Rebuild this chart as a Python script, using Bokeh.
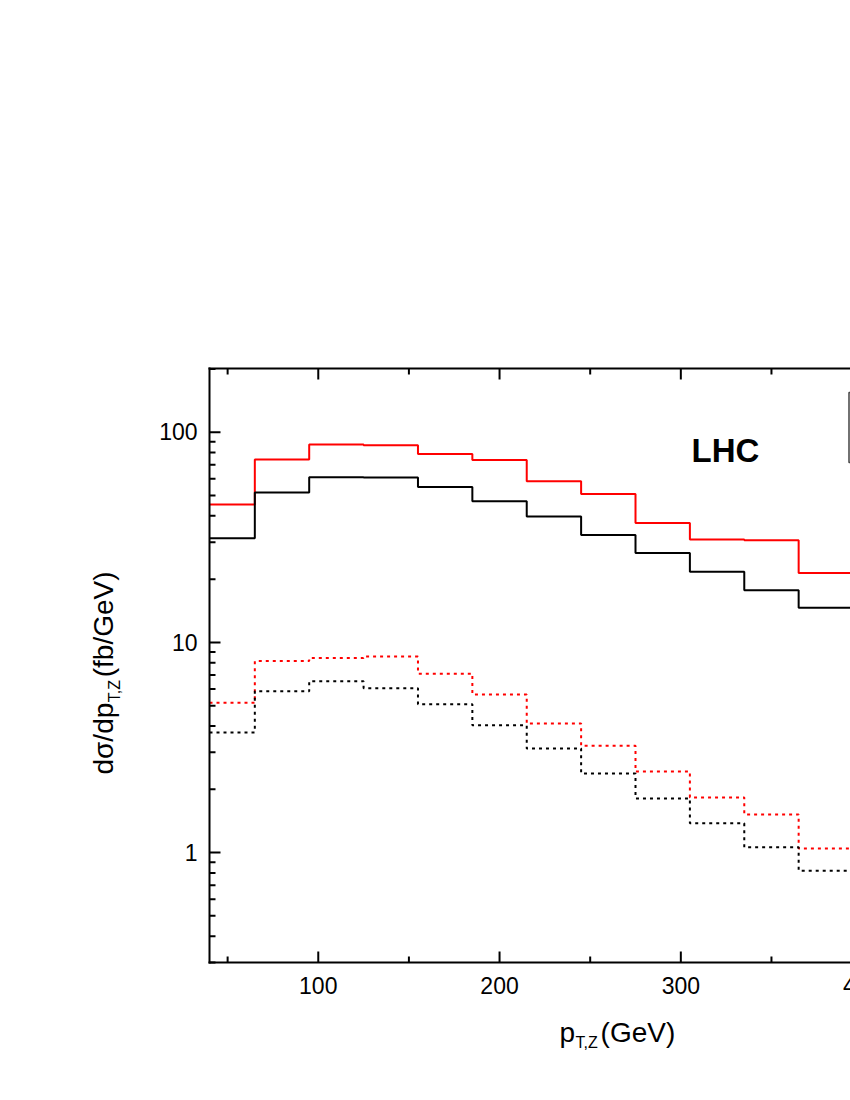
import math
from bokeh.plotting import figure
from bokeh.models import Label, Range1d
from bokeh.core.properties import value
from bokeh.embed import file_html
from bokeh.resources import INLINE

# ---------------- data ----------------
bin_edges = [40, 65, 95, 125, 155, 185, 215, 245, 275, 305, 335, 365, 395]
red_solid = [45.3, 74.1, 87.4, 86.7, 78.8, 73.8, 58.4, 50.8, 37.0, 30.9, 30.6, 21.4]
black_solid = [31.3, 51.6, 61.1, 60.9, 54.9, 46.9, 39.7, 32.4, 26.6, 21.7, 17.7, 14.6]
red_dotted = [5.16, 8.15, 8.42, 8.58, 7.10, 5.65, 4.11, 3.22, 2.43, 1.83, 1.52, 1.045]
black_dotted = [3.73, 5.86, 6.54, 6.06, 5.08, 4.03, 3.13, 2.38, 1.81, 1.38, 1.06, 0.82]

x_major = [100, 200, 300, 400]
x_major_labels = ["100", "200", "300", "400"]
x_minor = [50, 150, 250, 350]
y_major = [1, 10, 100]
y_major_labels = ["1", "10", "100"]
y_minor = [0.3, 0.4, 0.5, 0.6, 0.7, 0.8, 0.9,
           2, 3, 4, 5, 6, 7, 8, 9,
           20, 30, 40, 50, 60, 70, 80, 90, 200]

# ---------------- geometry (page pixels) ----------------
X0, X1 = 40, 393.6          # visible axis range
Y0, Y1 = 0.3, 201.0
W, H = 850, 1092
FL, FR, FT, FB = 209, 850, 368, 962   # plot-box edges on the page
SHIFT = 0.36                          # baseline correction (em) for rendered text


def dx(px):
    return X0 + (px - FL) / (FR - FL) * (X1 - X0)


def dy(py):
    l0, l1 = math.log10(Y0), math.log10(Y1)
    return 10 ** (l1 - (py - FT) / (FB - FT) * (l1 - l0))


FONT = "Liberation Sans"

# the figure's drawing area covers the whole canvas; the axis box is drawn inside it
p = figure(width=W, height=H, x_range=Range1d(dx(0), dx(W)), y_range=Range1d(dy(H), dy(0)),
           y_axis_type="log", x_axis_location=None, y_axis_location=None,
           output_backend="svg", toolbar_location=None, min_border=0)
p.outline_line_color = None
p.xgrid.grid_line_color = None
p.ygrid.grid_line_color = None
p.background_fill_color = "white"
p.border_fill_color = "white"

# ---------------- histograms ----------------
p.step(x=bin_edges, y=red_solid + [red_solid[-1]], mode="after",
       line_color="#ff0000", line_width=2)
p.step(x=bin_edges, y=black_solid + [black_solid[-1]], mode="after",
       line_color="black", line_width=2)
p.step(x=bin_edges, y=red_dotted + [red_dotted[-1]], mode="after",
       line_color="#ff0000", line_width=2, line_dash="3 4")
p.step(x=bin_edges, y=black_dotted + [black_dotted[-1]], mode="after",
       line_color="black", line_width=2, line_dash="3 4")

# ---------------- axis box ----------------
XE = X1 + 20  # lines run on past the right edge of the page
p.segment(x0=[X0, X0, X0], y0=[Y0, Y0, Y1], x1=[X0, XE, XE], y1=[Y1, Y0, Y1],
          line_color="black", line_width=2, line_cap="square")

MAJ, MIN = 11, 6
p.ray(x=x_major, y=[Y0] * len(x_major), length=MAJ, length_units="screen",
      angle=math.pi / 2, line_color="black", line_width=2)
p.ray(x=x_minor, y=[Y0] * len(x_minor), length=MIN, length_units="screen",
      angle=math.pi / 2, line_color="black", line_width=2)
p.ray(x=x_major, y=[Y1] * len(x_major), length=MAJ, length_units="screen",
      angle=-math.pi / 2, line_color="black", line_width=2)
p.ray(x=x_minor, y=[Y1] * len(x_minor), length=MIN, length_units="screen",
      angle=-math.pi / 2, line_color="black", line_width=2)
p.ray(x=[X0] * len(y_major), y=y_major, length=MAJ, length_units="screen",
      angle=0, line_color="black", line_width=2)
p.ray(x=[X0] * len(y_minor), y=y_minor, length=MIN, length_units="screen",
      angle=0, line_color="black", line_width=2)

# tick labels
TF = 23
p.text(x=x_major, y=[Y0] * len(x_major), text=x_major_labels, y_offset=31 - SHIFT * TF,
       text_font=value(FONT), text_font_size=f"{TF}px", text_color="black",
       text_align="center", text_baseline="alphabetic")
p.text(x=[X0] * len(y_major), y=y_major, text=y_major_labels, x_offset=-12,
       y_offset=8 - SHIFT * TF,
       text_font=value(FONT), text_font_size=f"{TF}px", text_color="black",
       text_align="right", text_baseline="alphabetic")

# legend box (cut off at the right edge of the page)
p.quad(left=[dx(848.5)], right=[XE], top=[dy(392)], bottom=[dy(462)],
       fill_color=None, line_color="#444444", line_width=1.5)

# ---------------- texts ----------------
LF = 33
p.add_layout(Label(x=dx(691), y=dy(461.5 - SHIFT * LF), text="LHC", text_font=FONT,
                   text_font_style="bold", text_font_size=f"{LF}px",
                   text_align="left", text_baseline="alphabetic", text_color="black"))

MAIN, SUB = 28, 16
w_p = 0.556 * MAIN
w_tz = 1.5 * SUB
xs = 559
xb = 1042           # baseline of the x-axis title
p.add_layout(Label(x=dx(xs), y=dy(xb - SHIFT * MAIN), text="p", text_font=FONT,
                   text_font_size=f"{MAIN}px", text_align="left", text_baseline="alphabetic",
                   text_color="black"))
p.add_layout(Label(x=dx(xs + w_p + 0.5), y=dy(xb + 6 - SHIFT * SUB), text="T,Z",
                   text_font=FONT, text_font_size=f"{SUB}px", text_align="left",
                   text_baseline="alphabetic", text_color="black"))
p.add_layout(Label(x=dx(xs + w_p + w_tz + 1.5), y=dy(xb - SHIFT * MAIN), text="(GeV)",
                   text_font=FONT, text_font_size=f"{MAIN}px", text_align="left",
                   text_baseline="alphabetic", text_color="black"))

ys = 774
yb = 113            # baseline of the rotated y-axis title
w_d = 2.563 * MAIN
ang = math.pi / 2
p.add_layout(Label(x=dx(yb - SHIFT * MAIN), y=dy(ys), text="dσ/dp", text_font=FONT,
                   angle=ang, text_color="black",
                   text_font_size=f"{MAIN}px", text_align="left", text_baseline="alphabetic"))
p.add_layout(Label(x=dx(yb + 6.5 - SHIFT * SUB), y=dy(ys - w_d - 0.5), text="T,Z",
                   text_font=FONT, angle=ang, text_color="black",
                   text_font_size=f"{SUB}px", text_align="left", text_baseline="alphabetic"))
p.add_layout(Label(x=dx(yb - SHIFT * MAIN), y=dy(ys - w_d - w_tz - 1.5), text="(fb/GeV)",
                   text_font=FONT, text_color="black",
                   angle=ang, text_font_size=f"{MAIN}px", text_align="left",
                   text_baseline="alphabetic"))

open("out.html", "w").write(file_html(p, INLINE))
